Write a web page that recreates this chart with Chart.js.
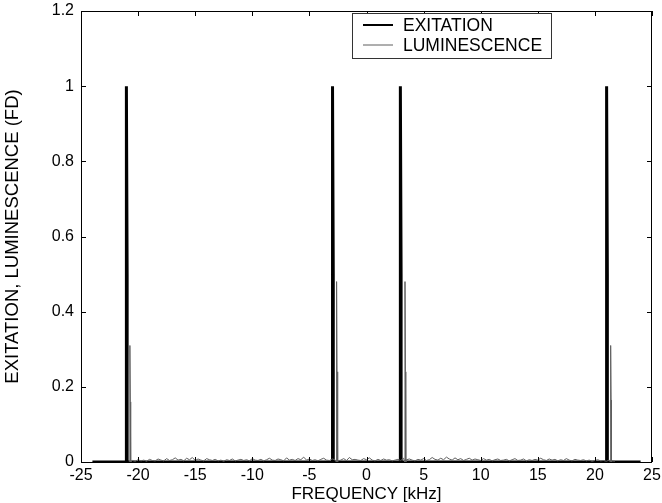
<!DOCTYPE html>
<html>
<head>
<meta charset="utf-8">
<script src="https://cdn.jsdelivr.net/npm/chart.js@4"></script>
<style>
  html,body{margin:0;padding:0;background:#fff;}
  #wrap{width:662px;height:503px;}
</style>
</head>
<body>
<div id="wrap"><canvas id="c" width="662" height="503"></canvas></div>
<script>
/* ---------- Data ---------- */
const X_TICKS = [-25,-20,-15,-10,-5,0,5,10,15,20,25];
const Y_TICKS = [0,0.2,0.4,0.6,0.8,1,1.2];

// excitation: flat line with four narrow lines (peak 1, shoulder 0.5)
const EXC_RANGE    = [-24, 24];
const EXC_POS      = [-21.0, -2.95, 2.99, 21.05];
const EXC_PEAK     = [1, 1, 1, 1];
const EXC_SHOULDER = [0.5, 0.5, 0.5, 0.5];

// luminescence: four lines just right of the excitation, plus a noise floor
const LUM_POS      = [-20.72, -2.62, 3.37, 21.38];
const LUM_PEAK     = [0.31, 0.48, 0.48, 0.31];
const LUM_SHOULDER = [0.16, 0.24, 0.24, 0.165];

const NOISE_START = -20.5, NOISE_STEP = 0.25;
const NOISE = [
  0.004,0.002,0.006,0.003,0.005,0.002,0.007,0.004,0.003,0.008,
  0.005,0.003,0.009,0.004,0.006,0.011,0.005,0.007,0.003,0.010,
  0.006,0.012,0.004,0.008,0.005,0.003,0.009,0.006,0.004,0.007,
  0.003,0.005,0.002,0.006,0.004,0.008,0.003,0.005,0.007,0.004,
  0.006,0.003,0.009,0.005,0.004,0.007,0.003,0.006,0.010,0.005,
  0.004,0.008,0.006,0.003,0.011,0.005,0.007,0.004,0.009,0.006,
  0.013,0.005,0.008,0.004,0.006,0.003,0.007,0.010,0.005,0.004,
  0.008,0.006,0.003,0.005,0.009,0.004,0.012,0.006,0.007,0.005,
  0.004,0.009,0.006,0.011,0.005,0.003,0.007,0.004,0.008,0.005,
  0.006,0.003,0.005,0.007,0.004,0.010,0.006,0.008,0.005,0.003,
  0.007,0.005,0.009,0.004,0.006,0.012,0.007,0.005,0.010,0.006,
  0.013,0.008,0.005,0.011,0.006,0.009,0.004,0.007,0.010,0.005,
  0.008,0.006,0.004,0.009,0.005,0.007,0.003,0.006,0.008,0.004,
  0.005,0.007,0.003,0.006,0.009,0.004,0.005,0.008,0.003,0.006,
  0.004,0.007,0.005,0.010,0.006,0.004,0.008,0.005,0.007,0.003,
  0.006,0.004,0.009,0.005,0.003,0.007,0.005,0.004,0.006,0.003,
  0.005,0.002,0.004,0.006,0.003,0.004,0.002,0.005,0.003,0.002
];

/* ---------- Build point lists ---------- */
function excData(){
  const pts = [{x:EXC_RANGE[0],y:0}];
  EXC_POS.forEach((p,i)=>{
    pts.push({x:p-0.05,y:0},{x:p-0.05,y:EXC_SHOULDER[i]},{x:p,y:EXC_PEAK[i]},
             {x:p+0.04,y:EXC_SHOULDER[i]},{x:p+0.04,y:0});
  });
  pts.push({x:EXC_RANGE[1],y:0});
  return pts;
}
function lumData(){
  const pts = NOISE.map((v,i)=>({x:NOISE_START+i*NOISE_STEP,y:v}));
  LUM_POS.forEach((p,i)=>{
    pts.push({x:p-0.03,y:0},{x:p,y:LUM_PEAK[i]},{x:p+0.04,y:LUM_SHOULDER[i]},{x:p+0.07,y:0});
  });
  pts.push({x:LUM_POS[0]-0.1,y:0});
  return pts.sort((a,b)=>a.x-b.x);
}

const FAMILY = "'Liberation Sans', Arial, sans-serif";
const FONT = {family:FAMILY, size:16};

/* ---------- Frame with inward ticks + boxed legend ---------- */
const framePlugin = {
  id:"frame",
  afterDraw(chart){
    const {ctx, chartArea:a, scales:{x,y}} = chart;
    ctx.save();
    ctx.strokeStyle = "#000"; ctx.lineWidth = 1;
    ctx.strokeRect(a.left+0.5, a.top+0.5, a.right-a.left-1, a.bottom-a.top);
    const T = 5;
    ctx.beginPath();
    X_TICKS.forEach(v=>{
      const px = Math.round(x.getPixelForValue(v))+0.5;
      ctx.moveTo(px,a.bottom); ctx.lineTo(px,a.bottom-T);
      ctx.moveTo(px,a.top);    ctx.lineTo(px,a.top+T);
    });
    Y_TICKS.forEach(v=>{
      const py = Math.round(y.getPixelForValue(v))+0.5;
      ctx.moveTo(a.left,py);  ctx.lineTo(a.left+T,py);
      ctx.moveTo(a.right,py); ctx.lineTo(a.right-T,py);
    });
    ctx.stroke();

    // legend box
    const lx=352, ly=13, lw=199, lh=45;
    ctx.fillStyle="#fff"; ctx.fillRect(lx,ly,lw,lh);
    ctx.strokeStyle="#333"; ctx.strokeRect(lx+0.5,ly+0.5,lw,lh);
    ctx.font = `17.5px ${FAMILY}`;
    ctx.textBaseline = "middle";
    chart.data.datasets.forEach((ds,i)=>{
      const yy = ly + 12 + i*20;
      ctx.strokeStyle = ds.borderColor; ctx.lineWidth = ds.legendWidth;
      ctx.beginPath(); ctx.moveTo(363,yy); ctx.lineTo(393,yy); ctx.stroke();
      ctx.fillStyle="#000"; ctx.fillText(ds.label, 403, yy+1);
    });
    ctx.restore();
  }
};

const fmtTick = v => String(Math.round(v*10)/10);

new Chart(document.getElementById("c"),{
  type:"scatter",
  data:{datasets:[
    {label:"EXITATION", data:excData(), showLine:true, borderColor:"#000",
     borderWidth:3, legendWidth:2, pointRadius:0, tension:0, order:2},
    {label:"LUMINESCENCE", data:lumData(), showLine:true, borderColor:"#5f5f5f",
     borderWidth:1, legendWidth:1, pointRadius:0, tension:0, order:1}
  ]},
  options:{
    responsive:false, animation:false,
    layout:{padding:{left:0,right:10,top:11,bottom:0}},
    plugins:{legend:{display:false}, tooltip:{enabled:false}},
    scales:{
      x:{type:"linear", min:-25, max:25,
         afterBuildTicks:s=>{s.ticks = X_TICKS.map(v=>({value:v}));},
         afterFit:s=>{s.height = 41; s.paddingLeft = 0; s.paddingRight = 0;},
         grid:{display:false, drawTicks:false, tickLength:0}, border:{display:false},
         ticks:{color:"#000", font:FONT, padding:4, maxRotation:0, callback:fmtTick},
         title:{display:true, text:"FREQUENCY [kHz]", color:"#000", font:{family:FAMILY, size:17}, padding:{top:0,bottom:-2}}},
      y:{type:"linear", min:0, max:1.2,
         afterBuildTicks:s=>{s.ticks = Y_TICKS.map(v=>({value:v}));},
         afterFit:s=>{s.width = 81; s.paddingTop = 0; s.paddingBottom = 0;},
         grid:{display:false, drawTicks:false, tickLength:0}, border:{display:false},
         ticks:{color:"#000", font:FONT, padding:7, callback:fmtTick},
         title:{display:true, text:"EXITATION, LUMINESCENCE (FD)", color:"#000", font:{family:FAMILY, size:18.5}, padding:{top:2,bottom:0}}}
    }
  },
  plugins:[framePlugin]
});
</script>
</body>
</html>
